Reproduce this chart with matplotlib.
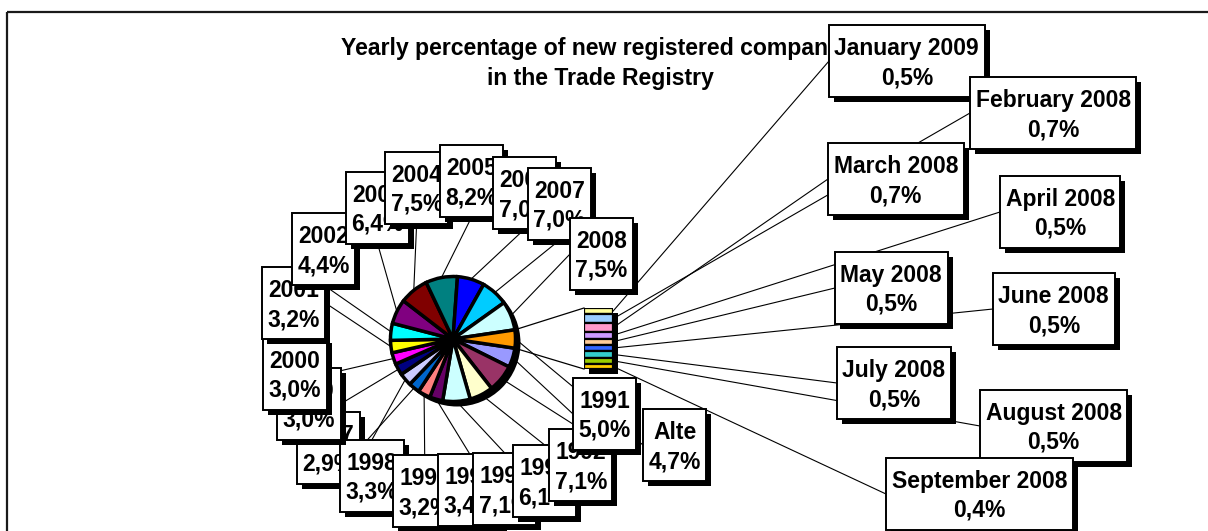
import matplotlib
matplotlib.use('Agg')
import matplotlib.pyplot as plt
from matplotlib.patches import Rectangle, Circle
import numpy as np

plt.rcParams['font.family'] = ['Liberation Sans', 'DejaVu Sans']

# ---------------- data ----------------
years = ['1991', '1992', '1993', '1994', '1995', '1996', '1997', '1998', '1999',
         '2000', '2001', '2002', '2003', '2004', '2005', '2006', '2007', '2008']
year_pct = [5.0, 7.1, 6.1, 7.1, 3.4, 3.2, 2.9, 3.3, 3.0,
            3.0, 3.2, 4.4, 6.4, 7.5, 8.2, 7.0, 7.0, 7.5]
other_name = 'Alte'
other_pct = 4.7
months = ['January 2009', 'February 2008', 'March 2008', 'April 2008', 'May 2008',
          'June 2008', 'July 2008', 'August 2008', 'September 2008']
month_pct = [0.5, 0.7, 0.7, 0.5, 0.5, 0.5, 0.5, 0.5, 0.4]
title_lines = ['Yearly percentage of new registered companies', 'in the Trade Registry']

# ---------------- style ----------------
year_colors = ['#9999FF', '#993366', '#FFFFCC', '#CCFFFF', '#660066', '#FF8080',
               '#0066CC', '#CCCCFF', '#000080', '#FF00FF', '#FFFF00', '#00FFFF',
               '#800080', '#800000', '#008080', '#0000FF', '#00CCFF', '#CCFFFF']
other_color = '#FF9900'
month_colors = ['#FFFF99', '#99CCFF', '#FF99CC', '#CC99FF', '#FFCC99', '#3366FF',
                '#33CCCC', '#99CC00', '#FFCC00']

# ---------------- layout (pixels) ----------------
W, H = 1208, 531
PIE_C = (453, 339)
PIE_R = 62.5
BAR_BOX = (584, 308, 29, 61)  # x, y, w, h
year_box_xy = [(573, 378), (549, 429), (513, 445), (473, 453), (438, 454), (393, 455),
               (297, 412), (340, 440), (277, 368), (263, 338), (262, 267), (292, 213),
               (346, 172), (385, 152), (440, 145), (493, 157), (528, 168), (570, 218)]
# stacking rank of the year labels (higher = drawn on top)
year_box_rank = [7, 6, 5, 4, 3, 2, 0, 1, 8, 9, 10, 11, 12, 13, 14, 15, 16, 17]
other_box_xy = (643, 409)
month_box_xy = [(829, 25), (970, 77), (828, 143), (1000, 176), (835, 252),
                (993, 273), (837, 347), (980, 390), (886, 458)]
FS = 16.5
PAD = 5.5
BH = 72
SH = 5

fig = plt.figure(figsize=(W / 100, H / 100), dpi=100)
ax = fig.add_axes([0, 0, 1, 1])


def fmt(v):
    return f'{v:.1f}'.replace('.', ',') + '%'


# pie
vals = year_pct + [other_pct]
cols = year_colors + [other_color]
start = 360 * other_pct / sum(vals) / 2
wedges, _ = ax.pie(vals, colors=cols, startangle=start, counterclock=True,
                   center=PIE_C, radius=PIE_R, frame=True,
                   wedgeprops=dict(edgecolor='black', linewidth=2.5, zorder=3))
ax.set_xlim(0, W)
ax.set_ylim(H, 0)
ax.set_aspect('auto')
ax.axis('off')
ax.add_patch(Circle((PIE_C[0] + 4, PIE_C[1] + 4), PIE_R + 1, fc='black', ec='none', zorder=2))

# chart border
ax.add_patch(Rectangle((7, 12), 1400, 700, fill=False, ec='#1a1a1a', lw=1.6, zorder=0.5))

# title
ax.text(600, 55, title_lines[0], ha='center', va='baseline', fontsize=16.6,
        fontweight='bold', zorder=4)
ax.text(600, 85, title_lines[1], ha='center', va='baseline', fontsize=16.6,
        fontweight='bold', zorder=4)

# bar of pie (inset axes)
bx, by, bw, bh = BAR_BOX
ax_bar = fig.add_axes([bx / W, 1 - (by + bh) / H, bw / W, bh / H])
cum = np.concatenate([[0], np.cumsum(month_pct)[:-1]])
ax_bar.bar(np.zeros(len(month_pct)), month_pct, bottom=cum, width=1.0,
           color=month_colors, edgecolor='black', linewidth=1.6)
ax_bar.set_xlim(-0.5, 0.5)
ax_bar.set_ylim(sum(month_pct), 0)
ax_bar.axis('off')
ax.add_patch(Rectangle((bx + SH, by + SH), bw, bh, fc='black', ec='none', zorder=2))

# connectors pie -> bar
a = np.deg2rad(start)
ax.plot([PIE_C[0] + PIE_R * np.cos(a), bx], [PIE_C[1] - PIE_R * np.sin(a), by],
        color='black', lw=0.9, zorder=1)
ax.plot([PIE_C[0] + PIE_R * np.cos(a), bx], [PIE_C[1] + PIE_R * np.sin(a), by + bh],
        color='black', lw=0.9, zorder=1)

renderer = fig.canvas.get_renderer()


def text_w(s):
    t = ax.text(0, 0, s, fontsize=FS, fontweight='bold')
    w = t.get_window_extent(renderer).width
    t.remove()
    return w


def attach(box, p):
    x0, y0, w, h = box
    cx, cy = x0 + w / 2, y0 + h / 2
    dx, dy = p[0] - cx, p[1] - cy
    if abs(dx) > abs(dy):
        return (x0 if dx < 0 else x0 + w, cy)
    return (cx, y0 if dy < 0 else y0 + h)


def draw_label(xy, l1, l2, z, src):
    x0, y0 = xy
    w = max(text_w(l1), text_w(l2)) + 2 * PAD
    box = (x0, y0, w, BH)
    ex, ey = attach(box, src)
    ax.plot([src[0], ex], [src[1], ey], color='black', lw=0.8, zorder=1)
    ax.add_patch(Rectangle((x0 + SH, y0 + SH), w, BH, fc='black', ec='none', zorder=z))
    ax.add_patch(Rectangle((x0, y0), w, BH, fc='white', ec='black', lw=1.4, zorder=z + 0.01))
    ax.text(x0 + w / 2, y0 + 30, l1, ha='center', va='baseline', fontsize=FS,
            fontweight='bold', zorder=z + 0.02)
    ax.text(x0 + w / 2, y0 + 59, l2, ha='center', va='baseline', fontsize=FS,
            fontweight='bold', zorder=z + 0.02)


def wedge_point(wd):
    m = np.deg2rad((wd.theta1 + wd.theta2) / 2)
    return (PIE_C[0] + PIE_R * np.cos(m), PIE_C[1] + PIE_R * np.sin(m))


for i, (yr, v) in enumerate(zip(years, year_pct)):
    draw_label(year_box_xy[i], yr, fmt(v), 10 + year_box_rank[i], wedge_point(wedges[i]))
z = 10 + len(years)
draw_label(other_box_xy, other_name, fmt(other_pct), z, wedge_point(wedges[-1]))
z += 1

tr = ax_bar.transData
for i, (m, v) in enumerate(zip(months, month_pct)):
    disp = tr.transform((0.5, cum[i] + v / 2))
    src = (disp[0], H - disp[1])
    draw_label(month_box_xy[i], m, fmt(v), z, src)
    z += 1

fig.savefig('out.png', dpi=100)
